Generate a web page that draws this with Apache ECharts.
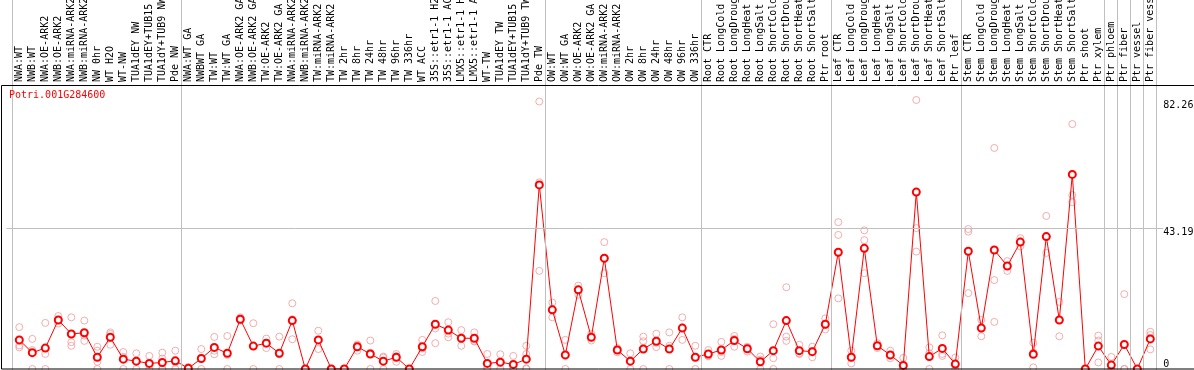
<!DOCTYPE html>
<html><head><meta charset="utf-8">
<script src="https://cdn.jsdelivr.net/npm/echarts@6/dist/echarts.min.js"></script>
<style>html,body{margin:0;padding:0;background:#fff}#c{width:1194px;height:370px}</style>
</head><body><div id="c"></div>
<script>
const geneId = 'Potri.001G284600';
const categories = [
 'NWA:WT','NWB:WT','NWA:OE-ARK2','NWB:OE-ARK2','NWA:miRNA-ARK2','NWB:miRNA-ARK2','NW 0hr','WT H2O','WT-NW','TUA1dEY NW',
 'TUA1dEY+TUB15 NW','TUA1dY+TUB9 NW','Pde NW','NWA:WT GA','NWBWT GA','TW:WT','TW:WT GA','NWA:OE-ARK2 GA','NWB:OE-ARK2 GA','TW:OE-ARK2',
 'TW:OE-ARK2 GA','NWA:miRNA-ARK2','NWB:miRNA-ARK2','TW:miRNA-ARK2','TW:miRNA-ARK2','TW 2hr','TW 8hr','TW 24hr','TW 48hr','TW 96hr',
 'TW 336hr','WT ACC','35S::etr1-1 H2O','35S::etr1-1 ACC','LMX5::etr1-1 H2O','LMX5::etr1-1 ACC','WT-TW','TUA1dEY TW','TUA1dEY+TUB15 TW','TUA1dY+TUB9 TW',
 'Pde TW','OW:WT','OW:WT GA','OW:OE-ARK2','OW:OE-ARK2 GA','OW:miRNA-ARK2','OW:miRNA-ARK2','OW 2hr','OW 8hr','OW 24hr',
 'OW 48hr','OW 96hr','OW 336hr','Root CTR','Root LongCold','Root LongDrought','Root LongHeat','Root LongSalt','Root ShortCold','Root ShortDrought',
 'Root ShortHeat','Root ShortSalt','Ptr root','Leaf CTR','Leaf LongCold','Leaf LongDrought','Leaf LongHeat','Leaf LongSalt','Leaf ShortCold','Leaf ShortDrought',
 'Leaf ShortHeat','Leaf ShortSalt','Ptr leaf','Stem CTR','Stem LongCold','Stem LongDrought','Stem LongHeat','Stem LongSalt','Stem ShortCold','Stem ShortDrought',
 'Stem ShortHeat','Stem ShortSalt','Ptr shoot','Ptr xylem','Ptr phloem','Ptr fiber','Ptr vessel','Ptr fiber vessel'
];
const means = [
 8.9,5.0,6.4,15.0,10.7,11.1,3.6,9.7,3.0,2.4,
 1.7,2.0,2.5,0.2,3.2,6.6,4.8,15.2,7.0,7.9,
 4.8,14.8,0.0,8.9,0.0,0.0,6.8,4.6,2.4,3.6,
 0.0,6.8,13.7,11.9,9.4,9.4,1.7,2.1,1.4,3.0,
 56.3,18.1,4.3,24.2,9.7,33.9,5.8,2.4,6.1,8.5,
 6.1,12.5,3.6,4.6,5.8,8.7,6.2,2.2,5.6,14.8,
 5.6,5.3,13.7,35.7,3.6,36.9,7.1,4.3,1.1,54.1,
 3.8,6.3,1.5,36.0,12.5,36.4,31.5,38.8,4.5,40.5,
 15.0,59.5,0.0,7.0,1.2,7.5,0.0,9.2
];
const replicates = [
 [12.8,7.2,6.6],[9.2,5.8,0],[14.1,4.6,0],[16.2,15.0,13.9],[15.8,8.2,7.1],[14.8,10.2,8.6],[6.8,5.6,2.2,0],[11.2,10.7,7.4],[5.2,3.7,0],[4.8,2.3,0],
 [4.0,1.2,0],[5.0,3.2,0,0],[5.6,2.0,0],[0.6,0,0],[6.1,3.4,0],[9.8,5.6,4.5],[10.1,4.3,0],[15.8,15.0,14.8],[14.0,7.0,0],[9.3,8.0,6.4],
 [9.9,4.5,0],[20.1,15.2,9.1],[0,0,0],[11.7,8.9,6.1],[0,0,0],[0,0,0],[7.5,7.2,5.6],[8.7,5.0,0],[3.8,3.5,0],[4.6,3.9,2.2],
 [0,0,0],[8.9,6.3,5.2],[20.8,12.4,7.9],[14.3,10.8,9.7],[11.9,9.3,7.1],[11.2,8.6,8.4],[4.6,0.6,0],[4.5,2.0,0],[4.0,0.3,0],[7.1,4.6,0.2,0],
 [81.8,57.1,30.0],[20.3,18.2,15.8],[8.9,4.0,0],[25.5,24.3,22.7],[10.7,9.7,8.7],[38.8,33.6,29.3],[6.4,5.9,5.1],[4.8,2.5,0],[9.9,8.5,0],[10.8,8.0,6.7],
 [11.2,7.1,0],[15.8,12.7,8.9],[7.1,3.6,0],[5.8,4.1,3.9],[8.3,5.2,4.0],[10.1,9.2,6.8],[6.8,6.5,5.3],[3.8,2.9,0],[13.7,3.3,0],[25.0,9.9,8.6],
 [7.4,4.8,4.6],[6.8,5.5,3.6],[15.5,13.5,12.1],[44.9,41.0,21.6],[5.6,3.5,1.7],[42.4,39.4,29.3],[7.9,7.0,6.4],[5.6,4.0,3.3],[3.4,0,0],[82.26,43.1,35.9],
 [6.6,4.8,0],[10.3,4.6,4.0],[3.5,1.0,0],[42.8,42.0,23.2],[15.0,12.5,10.0],[67.6,27.2,14.4],[33.0,31.5,30.0],[40.0,39.0,37.5],[8.0,5.0,0.5],[46.8,40.5,35.5],
 [20.5,15.0,10.0],[74.9,53.2,51.0],[0,0,0],[10.2,8.7,2.0],[3.7,0,0],[22.9,0,0],[0,0,0],[11.4,10.4,6.0]
];
const yTickUpper = [43.19, 82.26];
const yTickZero = [0];
const gridLineValue = 43.19;
const separatorsAfter = [-1, 12, 40, 52, 62, 72, 83, 84, 85, 86, 87];

const FONT = 'DejaVu Sans Mono';
const repData = [];
replicates.forEach((arr, i) => arr.forEach(v => repData.push([i, v])));
const meanData = means.map((v, i) => [i, v]);

const chart = echarts.init(document.getElementById('c'), null, {renderer: 'canvas'});
const gridL = 6.3, gridR = 30.7;
chart.setOption({
  animation: false,
  backgroundColor: '#fff',
  title: {
    text: geneId, left: 9, top: 90, padding: 0,
    textStyle: {color: '#ff0000', fontSize: 10, fontFamily: FONT, fontWeight: 'normal'}
  },
  grid: [
    {left: gridL, right: gridR, top: 85, bottom: 1, containLabel: false, outerBoundsMode: 'none'},
    {left: gridL, right: gridR, top: 0, bottom: 0, containLabel: false, outerBoundsMode: 'none'}
  ],
  xAxis: [
    {
      type: 'value', gridIndex: 0, position: 'top', min: -1, max: 88, interval: 1,
      axisLine: {show: false, onZero: false}, axisTick: {show: false}, splitLine: {show: false},
      axisLabel: {
        show: true, rotate: -90, margin: 3, fontSize: 10, fontFamily: FONT, color: '#000',
        showMinLabel: true, showMaxLabel: true, hideOverlap: false,
        formatter: v => (categories[v] !== undefined ? categories[v] : '')
      }
    },
    {
      type: 'value', gridIndex: 1, min: -1, max: 88, show: false,
      axisLine: {onZero: false}
    }
  ],
  yAxis: [
    {
      type: 'value', gridIndex: 0, position: 'right', min: 0, max: 86.85,
      axisLine: {show: false, onZero: false}, axisTick: {show: false}, splitLine: {show: false},
      axisLabel: {customValues: yTickUpper, margin: 0, verticalAlign: 'top', align: 'left',
        fontSize: 10, fontFamily: FONT, color: '#000', formatter: v => String(v)}
    },
    {
      type: 'value', gridIndex: 0, position: 'right', min: 0, max: 86.85,
      axisLine: {show: false, onZero: false}, axisTick: {show: false}, splitLine: {show: false},
      axisLabel: {customValues: yTickZero, margin: 0, verticalAlign: 'bottom', align: 'left',
        fontSize: 10, fontFamily: FONT, color: '#000', formatter: v => String(v)}
    },
    {
      type: 'value', gridIndex: 1, min: 0, max: 1, show: false,
      axisLine: {onZero: false}
    }
  ],
  series: [
    {
      type: 'line', xAxisIndex: 1, yAxisIndex: 2, data: [[-1, 0]], symbol: 'none', silent: true,
      lineStyle: {opacity: 0}, z: 1,
      markLine: {
        silent: true, symbol: 'none', label: {show: false},
        lineStyle: {color: '#c0c0c0', width: 1, type: 'solid'},
        data: separatorsAfter.map(s => ({xAxis: s + 0.42}))
      }
    },
    {
      type: 'scatter', xAxisIndex: 0, yAxisIndex: 0, data: repData, symbol: 'circle', symbolSize: 7,
      silent: true, z: 2,
      itemStyle: {color: 'rgba(0,0,0,0)', borderColor: '#ef9a9a', borderWidth: 1}
    },
    {
      type: 'line', xAxisIndex: 0, yAxisIndex: 0, data: meanData, symbol: 'emptyCircle', symbolSize: 7,
      silent: true, z: 3,
      lineStyle: {color: '#ff0000', width: 1},
      itemStyle: {color: '#ff0000', borderColor: '#ff0000', borderWidth: 1.6},
      markLine: {
        silent: true, symbol: 'none', label: {show: false},
        lineStyle: {color: '#c0c0c0', width: 1, type: 'solid'},
        data: [{yAxis: gridLineValue}]
      }
    }
  ],
  graphic: [
    {type: 'rect', z: 100, silent: true,
     shape: {x: 1.5, y: 85.5, width: 1300, height: 283.5},
     style: {fill: 'none', stroke: '#000', lineWidth: 1}}
  ]
});
</script>
</body></html>
